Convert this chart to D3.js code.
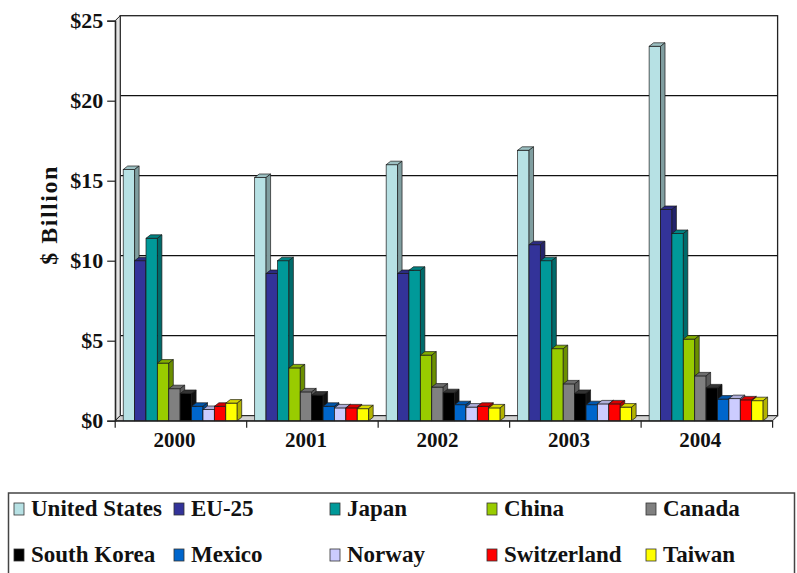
<!DOCTYPE html>
<html>
<head>
<meta charset="utf-8">
<script src="https://cdn.jsdelivr.net/npm/d3@7"></script>
<style>
  html, body { margin: 0; padding: 0; background: #fff; }
  svg { display: block; }
  text { font-family: "Liberation Serif", "Times New Roman", serif; font-weight: bold; fill: #111; }
</style>
</head>
<body>
<svg id="chart" width="797" height="573"></svg>
<script>
// Categories and series
const years = ["2000", "2001", "2002", "2003", "2004"];
const countries = ["United States", "EU-25", "Japan", "China", "Canada",
                   "South Korea", "Mexico", "Norway", "Switzerland", "Taiwan"];
const colors = ["#b7e1e4", "#333399", "#009999", "#99cc00", "#808080",
                "#000000", "#0066cc", "#ccccff", "#ff0000", "#ffff00"];

// $ billion, one array per country (2000..2004)
const unitedStates = [15.7, 15.2, 16.0, 16.9, 23.4];
const eu25         = [10.0, 9.2, 9.2, 11.0, 13.2];
const japan        = [11.4, 10.0, 9.4, 10.0, 11.7];
const china        = [3.6, 3.3, 4.1, 4.5, 5.1];
const canada       = [2.0, 1.8, 2.1, 2.3, 2.8];
const southKorea   = [1.7, 1.6, 1.75, 1.7, 2.05];
const mexico       = [0.9, 0.9, 1.0, 1.0, 1.35];
const norway       = [0.7, 0.8, 0.85, 1.05, 1.38];
const switzerland  = [0.9, 0.8, 0.9, 1.05, 1.3];
const taiwan       = [1.1, 0.75, 0.8, 0.85, 1.25];
const seriesValues = [unitedStates, eu25, japan, china, canada,
                      southKorea, mexico, norway, switzerland, taiwan];

const yTicks = [0, 5, 10, 15, 20, 25];
const yTitle = "$ Billion";

const svg = d3.select("#chart");

// Front plane scales
const y = d3.scaleLinear().domain([0, 25]).range([420.7, 20.7]);
const x = d3.scaleBand().domain(years).range([115.2, 772.6]).paddingInner(0).paddingOuter(0);
const xs = d3.scaleBand().domain(countries).range([8, 122]);

// Depth offsets: walls and bars
const wdx = 5, wdy = -5;
const bdx = 4.5, bdy = -3.5;

const x0 = x.range()[0], x1 = x.range()[1];
const yb = y(0), yt = y(25);

// Back wall
svg.append("rect")
  .attr("x", x0 + wdx).attr("y", yt + wdy)
  .attr("width", x1 - x0).attr("height", yb - yt)
  .attr("fill", "#fff").attr("stroke", "#222").attr("stroke-width", 1.3);

// Gridlines on the back wall
svg.append("g").selectAll("line")
  .data(yTicks.filter(d => d > 0 && d < 25))
  .join("line")
  .attr("x1", x0 + wdx).attr("x2", x1 + wdx)
  .attr("y1", d => y(d) + wdy).attr("y2", d => y(d) + wdy)
  .attr("stroke", "#111").attr("stroke-width", 1.3);

// Left side wall
svg.append("path")
  .attr("d", `M${x0},${yb} L${x0},${yt} L${x0 + wdx},${yt + wdy} L${x0 + wdx},${yb + wdy} Z`)
  .attr("fill", "#e4e4e4").attr("stroke", "#222").attr("stroke-width", 1);

// Floor
svg.append("path")
  .attr("d", `M${x0},${yb} L${x1},${yb} L${x1 + wdx},${yb + wdy} L${x0 + wdx},${yb + wdy} Z`)
  .attr("fill", "#d0d0d0").attr("stroke", "#222").attr("stroke-width", 1);

// Bars with front, top and side faces
const bars = [];
years.forEach((yr, i) => {
  countries.forEach((c, j) => {
    bars.push({ year: yr, country: c, value: seriesValues[j][i], color: colors[j] });
  });
});

const bw = xs.bandwidth();
const gBars = svg.append("g");
bars.forEach(d => {
  const bx = x(d.year) + xs(d.country);
  const ty = y(d.value);
  const base = d3.color(d.color);
  const g = gBars.append("g");
  g.append("rect")
    .attr("x", bx).attr("y", ty).attr("width", bw).attr("height", yb - ty)
    .attr("fill", d.color).attr("stroke", "#1a1a1a").attr("stroke-width", 0.7);
  g.append("path")
    .attr("d", `M${bx},${ty} L${bx + bdx},${ty + bdy} L${bx + bw + bdx},${ty + bdy} L${bx + bw},${ty} Z`)
    .attr("fill", d.color === "#000000" ? "#333" : base.darker(0.45))
    .attr("stroke", "#1a1a1a").attr("stroke-width", 0.7);
  g.append("path")
    .attr("d", `M${bx + bw},${ty} L${bx + bw + bdx},${ty + bdy} L${bx + bw + bdx},${yb + bdy} L${bx + bw},${yb} Z`)
    .attr("fill", d.color === "#000000" ? "#111" : base.darker(1.0))
    .attr("stroke", "#1a1a1a").attr("stroke-width", 0.7);
});

// Y axis (front edge) with ticks and labels
const yAxis = d3.axisLeft(y).tickValues(yTicks).tickSize(8).tickPadding(4)
  .tickFormat(d => "$" + d);
const gy = svg.append("g").attr("transform", `translate(${x0},0)`).call(yAxis);
gy.select(".domain").attr("stroke", "#222").attr("stroke-width", 1.2);
gy.selectAll(".tick line").attr("stroke", "#222").attr("stroke-width", 1.2);
gy.selectAll(".tick text")
  .attr("font-size", 22).attr("font-family", "Liberation Serif, serif")
  .attr("font-weight", "bold").attr("fill", "#111");

// X axis (front edge)
const xAxis = d3.axisBottom(x).tickSize(0).tickPadding(11);
const gx = svg.append("g").attr("transform", `translate(0,${yb})`).call(xAxis);
gx.select(".domain").attr("stroke", "#222").attr("stroke-width", 1.2);
gx.selectAll(".tick text")
  .attr("dx", -6.5)
  .attr("font-size", 21).attr("font-family", "Liberation Serif, serif")
  .attr("font-weight", "bold").attr("fill", "#111");

// Category boundary tick marks
svg.append("g").selectAll("line")
  .data(years.map(d => x(d)).concat([x1]))
  .join("line")
  .attr("x1", d => d).attr("x2", d => d)
  .attr("y1", yb).attr("y2", yb + 7)
  .attr("stroke", "#222").attr("stroke-width", 1.2);

// Y axis title
svg.append("text")
  .attr("transform", "translate(57,215) rotate(-90)")
  .attr("text-anchor", "middle")
  .attr("font-size", 24)
  .attr("letter-spacing", 1.5)
  .text(yTitle);

// Legend
const legend = svg.append("g");
legend.append("rect")
  .attr("x", 8.5).attr("y", 493).attr("width", 786).attr("height", 100)
  .attr("fill", "#fff").attr("stroke", "#444").attr("stroke-width", 1.5);

const colX = [14, 174, 330, 487, 646];
const rowY = [516, 562];
countries.forEach((c, i) => {
  const cx = colX[i % 5], cy = rowY[Math.floor(i / 5)];
  legend.append("rect")
    .attr("x", cx).attr("y", cy - 13).attr("width", 10).attr("height", 12)
    .attr("fill", colors[i]).attr("stroke", "#333").attr("stroke-width", 0.8);
  legend.append("text")
    .attr("x", cx + 17).attr("y", cy)
    .attr("font-size", 23)
    .text(c);
});
</script>
</body>
</html>
